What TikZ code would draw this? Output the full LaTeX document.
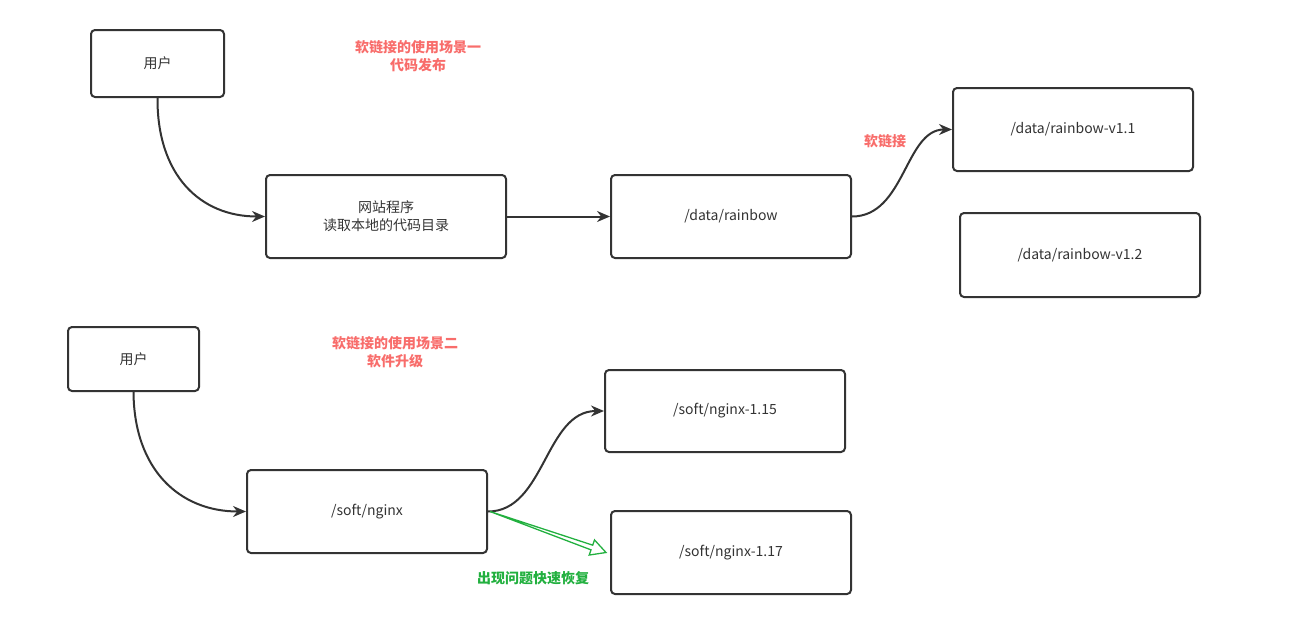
\documentclass[tikz,border=0pt]{standalone}
\usepackage{fontspec}
\setmainfont{Noto Sans CJK SC}
\usetikzlibrary{arrows.meta,calc}
\definecolor{boxc}{HTML}{333333}
\definecolor{redt}{HTML}{F86D6B}
\definecolor{greent}{HTML}{22B03F}
\tikzset{
  box/.style={draw=boxc, line width=2pt, rounded corners=4pt, inner sep=0pt,
    minimum width=240pt, minimum height=83pt, align=center, text=boxc,
    font=\fontsize{14}{18}\selectfont},
  smallbox/.style={box, minimum width=132pt, minimum height=66pt},
  conn/.style={draw=boxc, line width=2pt, -{Stealth[length=13pt,width=11pt]}},
  redlabel/.style={text=redt, align=center, font=\fontsize{14}{18}\selectfont\bfseries, inner sep=0pt},
  greenlabel/.style={text=greent, font=\fontsize{14}{18}\selectfont\bfseries, inner sep=0pt},
}
\begin{document}
\begin{tikzpicture}[x=1pt,y=-1pt]
\useasboundingbox (0,0) rectangle (1293,616);
% scene one
\node[smallbox, minimum height=67pt, minimum width=133pt] (u1) at (157.5,63.5) {用户};
\node[box] (web) at (386,216.5) {网站程序\\读取本地的代码目录};
\node[box] (rb) at (731,216.5) {/data/rainbow};
\node[box] (v11) at (1073,129.5) {/data/rainbow-v1.1};
\node[box, minimum height=84pt] (v12) at (1080,255) {/data/rainbow-v1.2};
\node[redlabel] (t1) at (418,56) {软链接的使用场景一\\代码发布};
\node[redlabel] (sl) at (885,141) {软链接};
\draw[conn] (u1.south) .. controls (157,175) and (200,216.5) .. (web.west);
\draw[conn] (web.east) -- (rb.west);
\draw[conn] (rb.east) .. controls (905,216.5) and (905,129.5) .. (v11.west);
% scene two
\node[smallbox, minimum height=64pt, minimum width=131pt] (u2) at (133.5,359) {用户};
\node[box] (ng) at (367,511.5) {/soft/nginx};
\node[box, minimum height=82pt] (n115) at (725,411) {/soft/nginx-1.15};
\node[box] (n117) at (731,552.5) {/soft/nginx-1.17};
\node[redlabel] (t2) at (395,352.5) {软链接的使用场景二\\软件升级};
\node[greenlabel] (gl) at (533,578) {出现问题快速恢复};
\draw[conn] (u2.south) .. controls (134,470) and (180,511.5) .. (ng.west);
\draw[conn] (ng.east) .. controls (545,511.5) and (545,411) .. (n115.west);
% green hollow arrow
\coordinate (gs) at ($(ng.east)+(2,0)$);
\coordinate (ge) at ($(n117.west)+(-4,0)$);
\coordinate (hb) at ($(ge)!15pt!(gs)$);
\draw[greent, line width=1.3pt, line join=miter]
  (gs) -- ($(hb)!2.5pt!90:(ge)$) -- ($(hb)!8pt!90:(ge)$) -- (ge)
  -- ($(hb)!8pt!-90:(ge)$) -- ($(hb)!2.5pt!-90:(ge)$) -- cycle;
\end{tikzpicture}
\end{document}
